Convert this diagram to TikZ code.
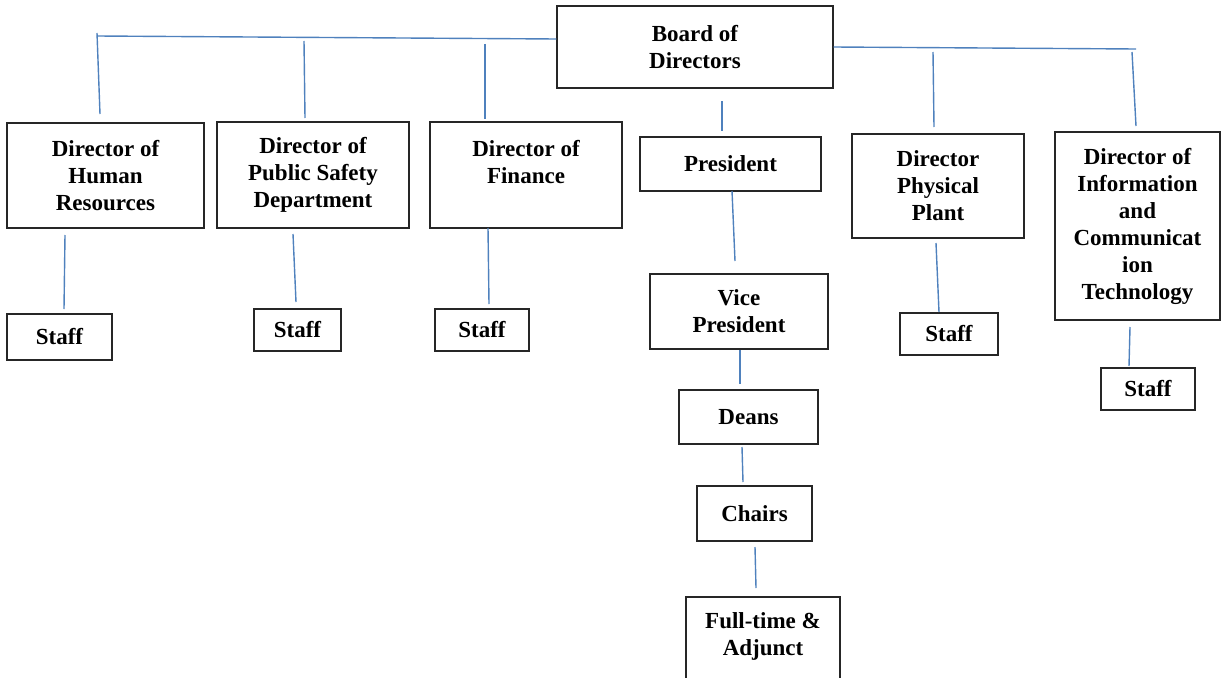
\documentclass[tikz,border=0pt]{standalone}
\usepackage{fontspec}
\setmainfont{Liberation Serif}
\usepackage{tikz}
\definecolor{linkblue}{HTML}{4F81BD}
\tikzset{
  unit/.style={draw=black!85, line width=1.4pt, align=center, inner sep=0pt,
    font=\bfseries\fontsize{23}{27}\selectfont},
  link/.style={draw=linkblue, line width=1.4pt},
}

\begin{document}
\begin{tikzpicture}[x=1pt,y=-1pt]
	\useasboundingbox (0,0) rectangle (1225,677);
	\clip (0,0) rectangle (1225,677);
	% top
	\node[unit, minimum width=276pt, minimum height=82pt] (Board) at (695,47) {Board of\\Directors} ;
	% directors
	\node[unit, minimum width=197pt, minimum height=105pt] (HR) at (105.5,175.5) {Director of\\Human\\Resources} ;
	\node[unit, minimum width=192pt, minimum height=106pt] (Safety) at (313,175) {Director of\\Public Safety\\Department} ;
	\node[unit, minimum width=192pt, minimum height=106pt] (Finance) at (526,175) {Director of\\Finance\\\mbox{}} ;
	\node[unit, minimum width=181pt, minimum height=54pt] (President) at (730.5,164) {President} ;
	\node[unit, minimum width=172pt, minimum height=104pt] (Plant) at (938,186) {Director\\Physical\\Plant} ;
	\node[unit, minimum width=165pt, minimum height=188pt] (ICT) at (1137.5,226) {Director of\\Information\\and\\Communicat\\ion\\Technology} ;
	% academic side
	\node[unit, minimum width=178pt, minimum height=75pt] (Vice) at (739,311.5) {Vice\\President} ;
	\node[unit, minimum width=139pt, minimum height=54pt] (Deans) at (748.5,417) {Deans} ;
	\node[unit, minimum width=115pt, minimum height=55pt] (Chairs) at (754.5,513.5) {Chairs} ;
	\node[unit, minimum width=154pt, minimum height=102pt] (Faculty) at (763,648) {Full-time \&\\Adjunct\\\mbox{}} ;
	% staff
	\node[unit, minimum width=105pt, minimum height=46pt] (HRStaff) at (59.5,337) {Staff} ;
	\node[unit, minimum width=87pt, minimum height=42pt] (SafetyStaff) at (297.5,330) {Staff} ;
	\node[unit, minimum width=94pt, minimum height=42pt] (FinanceStaff) at (482,330) {Staff} ;
	\node[unit, minimum width=98pt, minimum height=42pt] (PlantStaff) at (949,334) {Staff} ;
	\node[unit, minimum width=94pt, minimum height=42pt] (ICTStaff) at (1148,389) {Staff} ;
	% line ends
	\coordinate (trunkL) at (97,36) ; \coordinate (trunkR) at (1136,49) ;
	\coordinate (HRa) at (97,33) ; \coordinate (HRb) at (100,114) ;
	\coordinate (Safetya) at (304,41) ; \coordinate (Safetyb) at (305,118) ;
	\coordinate (Financea) at (485,44) ; \coordinate (Financeb) at (485,119) ;
	\coordinate (Planta) at (933,52) ; \coordinate (Plantb) at (934,127) ;
	\coordinate (ICTa) at (1132,52) ; \coordinate (ICTb) at (1136,126) ;
	\coordinate (Presa) at (722,101) ; \coordinate (Presb) at (722,131) ;
	\coordinate (Vicea) at (732,191) ; \coordinate (Viceb) at (735,261) ;
	\coordinate (Deansa) at (740,350) ; \coordinate (Deansb) at (740,384) ;
	\coordinate (Chairsa) at (742,447) ; \coordinate (Chairsb) at (743,482) ;
	\coordinate (Facultya) at (755,547) ; \coordinate (Facultyb) at (756,588) ;
	\coordinate (HRSa) at (65,235) ; \coordinate (HRSb) at (64,309) ;
	\coordinate (SafetySa) at (293,234) ; \coordinate (SafetySb) at (296,302) ;
	\coordinate (FinanceSa) at (488,228) ; \coordinate (FinanceSb) at (489,304) ;
	\coordinate (PlantSa) at (936,243) ; \coordinate (PlantSb) at (939,312) ;
	\coordinate (ICTSa) at (1130,327) ; \coordinate (ICTSb) at (1129,366) ;
	% links
	\draw[link] (trunkL) -- ([yshift=8pt]Board.west) ;
	\draw[link] (Board.east) -- (trunkR) ;
	\draw[link] (HRa) -- (HRb) ;
	\draw[link] (Safetya) -- (Safetyb) ;
	\draw[link] (Financea) -- (Financeb) ;
	\draw[link] (Planta) -- (Plantb) ;
	\draw[link] (ICTa) -- (ICTb) ;
	\draw[link] (Presa) -- (Presb) ;
	\draw[link] (Vicea) -- (Viceb) ;
	\draw[link] (Deansa) -- (Deansb) ;
	\draw[link] (Chairsa) -- (Chairsb) ;
	\draw[link] (Facultya) -- (Facultyb) ;
	\draw[link] (HRSa) -- (HRSb) ;
	\draw[link] (SafetySa) -- (SafetySb) ;
	\draw[link] (FinanceSa) -- (FinanceSb) ;
	\draw[link] (PlantSa) -- (PlantSb) ;
	\draw[link] (ICTSa) -- (ICTSb) ;
\end{tikzpicture}
\end{document}
